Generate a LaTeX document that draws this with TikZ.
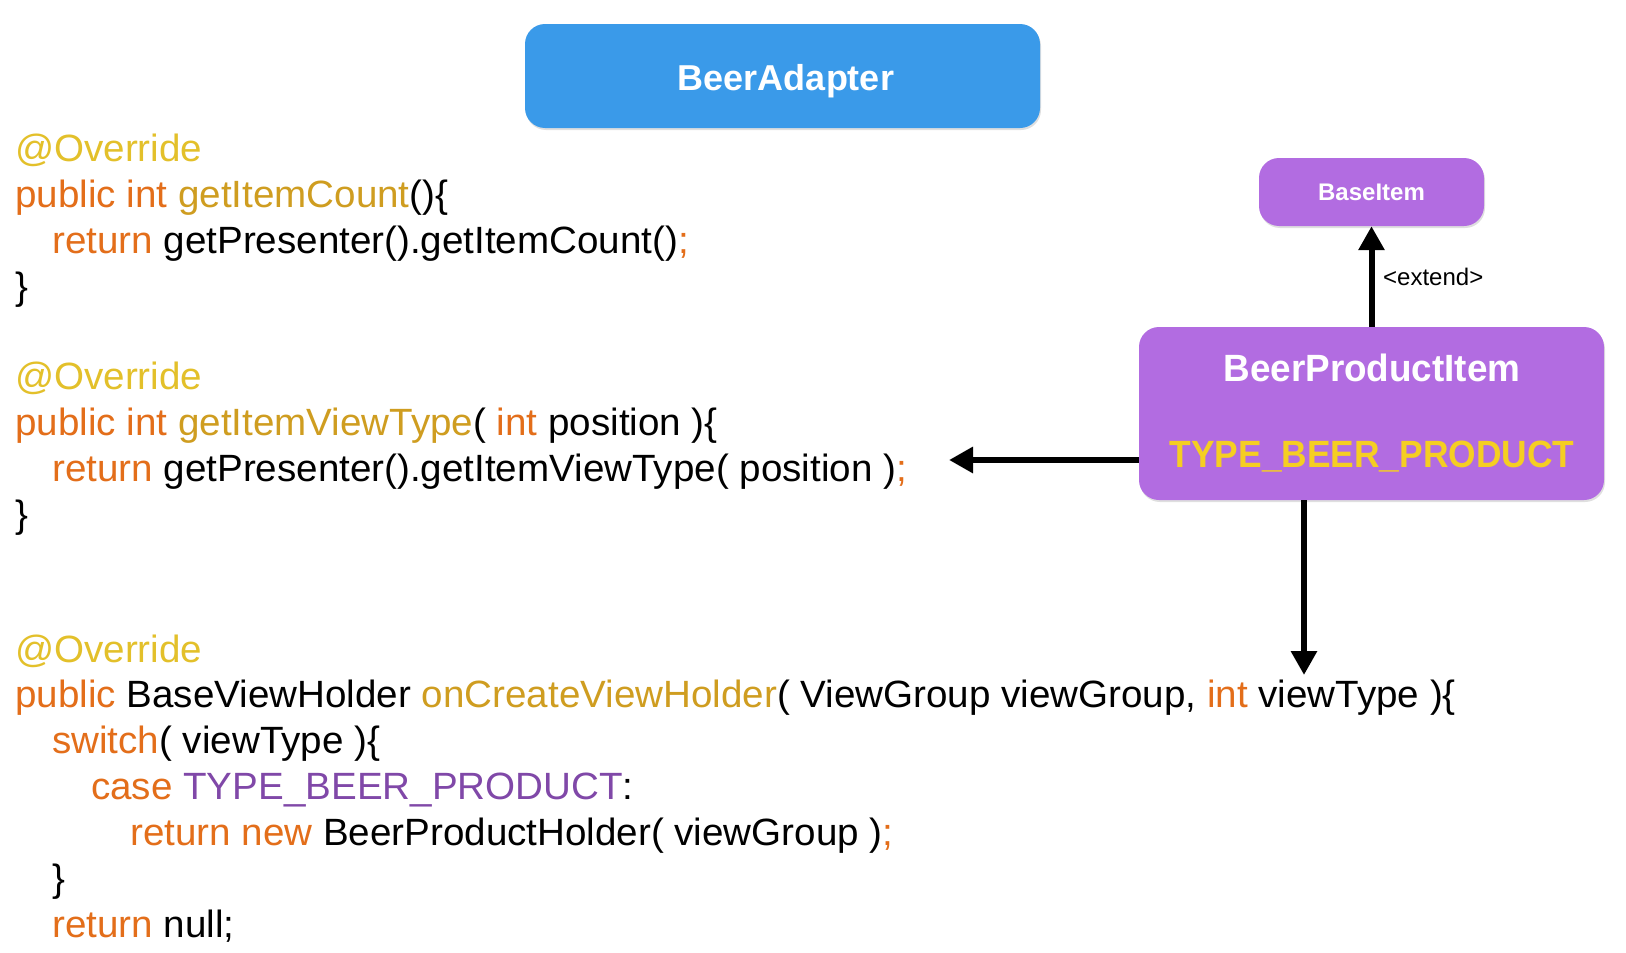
\documentclass[tikz,border=0pt]{standalone}
\usepackage{fontspec}
\setmainfont{Liberation Sans}
\newfontfamily\codefont[FakeStretch=1.015]{Liberation Sans}
\newfontfamily\narrowbold[FakeStretch=0.93]{Liberation Sans}
\newfontfamily\slightbold[FakeStretch=0.97]{Liberation Sans}
\usetikzlibrary{arrows.meta,shadows}
\definecolor{ovr}{HTML}{E3C02A}
\definecolor{kw}{HTML}{E36E1A}
\definecolor{mth}{HTML}{CF9D20}
\definecolor{typ}{HTML}{8048A8}
\definecolor{blu}{HTML}{3A9AE9}
\definecolor{pur}{HTML}{B26CE1}
\definecolor{yel}{HTML}{F5CE22}
\newcommand{\kwx}[1]{\textcolor{kw}{#1}}
\newcommand{\mtx}[1]{\textcolor{mth}{#1}}
\newcommand{\ovx}[1]{\textcolor{ovr}{#1}}
\newcommand{\tyx}[1]{\textcolor{typ}{#1}}
\begin{document}
\begin{tikzpicture}[x=1pt,y=1pt,
  code/.style={anchor=base west, inner sep=0pt, font=\codefont\fontsize{38}{38}\selectfont},
  box/.style={rounded corners=20pt, draw=none, inner sep=0pt,
    drop shadow={opacity=0.25, shadow xshift=1pt, shadow yshift=-2pt}},
  conn/.style={line width=6pt, -{Triangle[length=24pt,width=25pt]}},
  title/.style={text=white, font=\bfseries\fontsize{36}{36}\selectfont}]
\useasboundingbox (0,0) rectangle (1626,-953);
\fill[white] (0,0) rectangle (1626,-953);

% boxes
\node[box, fill=blu, minimum width=515pt, minimum height=104pt] (adapter) at (782.5,-76) {};
\node[title, anchor=base, inner sep=0pt] (adaptertxt) at (786,-90) {BeerAdapter};
\node[box, fill=pur, minimum width=225pt, minimum height=68pt] (base) at (1371.5,-192) {};
\node[text=white, font=\bfseries\fontsize{24}{24}\selectfont] (basetxt) at (base.center) {BaseItem};
\node[box, fill=pur, minimum width=465pt, minimum height=173pt] (bpi) at (1371.5,-413.5) {};
\node[anchor=base, inner sep=0pt, text=white, font=\slightbold\bfseries\fontsize{38}{38}\selectfont] (bpitxt) at (1372,-381) {BeerProductItem};
\node[anchor=base, inner sep=0pt, text=yel, font=\narrowbold\bfseries\fontsize{38}{38}\selectfont] (bpitype) at (1372,-467) {TYPE\_BEER\_PRODUCT};

% connectors
\draw[conn] (bpi.north) -- (base.south);
\node[anchor=west, inner sep=0pt, font=\fontsize{24}{24}\selectfont] (ext) at (1383,-277) {<extend>};
\coordinate (tipL) at (949,-460);
\draw[conn] (tipL -| bpi.west) -- (tipL);
\coordinate (tipD) at (1304,-675);
\draw[conn] (tipD |- bpi.south) -- (tipD);

% code section 1
\node[code] (a1) at (15,-161) {\ovx{@Override}};
\node[code] (a2) at (15,-207) {\kwx{public int} \mtx{getItemCount}()\{};
\node[code] (a3) at (52,-253) {\kwx{return} getPresenter().getItemCount()\kwx{;}};
\node[code] (a4) at (15,-299) {\}};
% code section 2
\node[code] (b1) at (15,-389) {\ovx{@Override}};
\node[code] (b2) at (15,-435) {\kwx{public int} \mtx{getItemViewType}( \kwx{int} position )\{};
\node[code] (b3) at (52,-481) {\kwx{return} getPresenter().getItemViewType( position )\kwx{;}};
\node[code] (b4) at (15,-527) {\}};
% code section 3
\node[code] (c1) at (15,-662) {\ovx{@Override}};
\node[code] (c2) at (15,-707) {\kwx{public} BaseViewHolder \mtx{onCreateViewHolder}( ViewGroup viewGroup, \kwx{int} viewType )\{};
\node[code] (c3) at (52,-753) {\kwx{switch}( viewType )\{};
\node[code] (c4) at (91,-799) {\kwx{case} \tyx{TYPE\_BEER\_PRODUCT}:};
\node[code] (c5) at (130,-845) {\kwx{return new} BeerProductHolder( viewGroup )\kwx{;}};
\node[code] (c6) at (52,-891) {\}};
\node[code] (c7) at (52,-937) {\kwx{return} null;};
\end{tikzpicture}
\end{document}
